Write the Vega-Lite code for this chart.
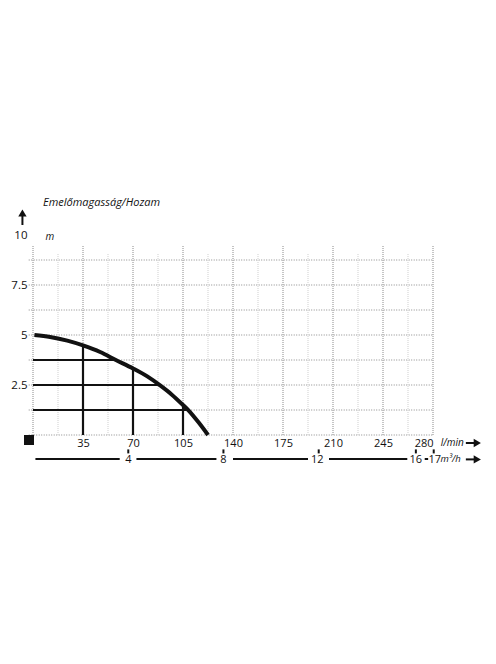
{
  "$schema": "https://vega.github.io/schema/vega-lite/v6.json",
  "width": 400,
  "height": 290,
  "autosize": {"type": "none"},
  "padding": {"left": 33, "top": 185, "right": 63, "bottom": 189},
  "background": "white",
  "config": {"view": {"stroke": null}, "font": "Open Sans"},
  "datasets": {
    "hgrid": [
      {"y": 0, "x": -3, "x2": 280},
      {"y": 1.25, "x": -3, "x2": 280},
      {"y": 2.5, "x": -3, "x2": 280},
      {"y": 3.75, "x": -3, "x2": 280},
      {"y": 5, "x": -3, "x2": 280},
      {"y": 6.25, "x": -3, "x2": 280},
      {"y": 7.5, "x": -3, "x2": 280},
      {"y": 8.75, "x": -3, "x2": 280}
    ],
    "vgrid": [
      {"x": 0, "y": 0, "y2": 9.5, "kind": "major"},
      {"x": 17.5, "y": 0, "y2": 9.1, "kind": "minor"},
      {"x": 35, "y": 0, "y2": 9.5, "kind": "major"},
      {"x": 52.5, "y": 0, "y2": 9.1, "kind": "minor"},
      {"x": 70, "y": 0, "y2": 9.5, "kind": "major"},
      {"x": 87.5, "y": 0, "y2": 9.1, "kind": "minor"},
      {"x": 105, "y": 0, "y2": 9.5, "kind": "major"},
      {"x": 122.5, "y": 0, "y2": 9.1, "kind": "minor"},
      {"x": 140, "y": 0, "y2": 9.5, "kind": "major"},
      {"x": 157.5, "y": 0, "y2": 9.1, "kind": "minor"},
      {"x": 175, "y": 0, "y2": 9.5, "kind": "major"},
      {"x": 192.5, "y": 0, "y2": 9.1, "kind": "minor"},
      {"x": 210, "y": 0, "y2": 9.5, "kind": "major"},
      {"x": 227.5, "y": 0, "y2": 9.1, "kind": "minor"},
      {"x": 245, "y": 0, "y2": 9.5, "kind": "major"},
      {"x": 262.5, "y": 0, "y2": 9.1, "kind": "minor"},
      {"x": 280, "y": 0, "y2": 9.5, "kind": "major"}
    ],
    "curve": [
      {"x": 1, "y": 5.0},
      {"x": 12, "y": 4.9},
      {"x": 24, "y": 4.72},
      {"x": 35, "y": 4.48},
      {"x": 47, "y": 4.15},
      {"x": 58, "y": 3.75},
      {"x": 70, "y": 3.33},
      {"x": 80, "y": 2.93},
      {"x": 89, "y": 2.48},
      {"x": 97, "y": 2.03},
      {"x": 105, "y": 1.5},
      {"x": 109, "y": 1.22},
      {"x": 116, "y": 0.62},
      {"x": 122.5, "y": 0}
    ],
    "refs": [
      {"x": 35, "y": 0, "x2": 35, "y2": 4.45},
      {"x": 70, "y": 0, "x2": 70, "y2": 3.35},
      {"x": 105, "y": 0, "x2": 105, "y2": 1.5},
      {"x": 0, "y": 3.75, "x2": 59, "y2": 3.75},
      {"x": 0, "y": 2.5, "x2": 89, "y2": 2.5},
      {"x": 0, "y": 1.25, "x2": 108, "y2": 1.25}
    ],
    "axis2": [
      {"x": 1.7, "y": -1.2, "x2": 60.7, "y2": -1.2},
      {"x": 72.4, "y": -1.2, "x2": 128.4, "y2": -1.2},
      {"x": 140, "y": -1.2, "x2": 192.5, "y2": -1.2},
      {"x": 207.2, "y": -1.2, "x2": 262, "y2": -1.2},
      {"x": 274.2, "y": -1.2, "x2": 276.6, "y2": -1.2},
      {"x": 303, "y": -1.22, "x2": 309, "y2": -1.22},
      {"x": 303, "y": -0.4, "x2": 309, "y2": -0.4},
      {"x": -7.4, "y": 10.5, "x2": -7.4, "y2": 11.0}
    ],
    "ticks2": [
      {"x": 66.7, "y": -0.72, "y2": -0.92},
      {"x": 133.3, "y": -0.72, "y2": -0.92},
      {"x": 200, "y": -0.72, "y2": -0.92},
      {"x": 268, "y": -0.72, "y2": -0.92},
      {"x": 280.5, "y": -0.72, "y2": -0.92}
    ],
    "labels2": [
      {"x": 66.7, "y": -1.2, "t": "4"},
      {"x": 133.3, "y": -1.2, "t": "8"},
      {"x": 199, "y": -1.2, "t": "12"},
      {"x": 268, "y": -1.2, "t": "16"},
      {"x": 281.2, "y": -1.2, "t": "17"}
    ],
    "italics": [
      {"x": 7, "y": 11.6, "t": "Emelőmagasság/Hozam", "s": 11},
      {"x": 8.8, "y": 9.9, "t": "m", "s": 10},
      {"x": 285.4, "y": -0.42, "t": "l/min", "s": 10},
      {"x": 285.2, "y": -1.22, "t": "m³/h", "s": 9.5}
    ],
    "heads": [
      {"x": 311, "y": -0.4, "shape": "triangle-right"},
      {"x": 311, "y": -1.22, "shape": "triangle-right"},
      {"x": -7.4, "y": 11.1, "shape": "triangle-up"}
    ],
    "square": [
      {"x": -2.8, "y": -0.25}
    ]
  },
  "encoding": {
    "x": {
      "field": "x",
      "type": "quantitative",
      "scale": {"domain": [0, 280], "nice": false, "zero": false},
      "axis": {
        "values": [35, 70, 105, 140, 175, 210, 245, 280],
        "domain": false,
        "ticks": false,
        "tickSize": 0,
        "grid": false,
        "offset": -40,
        "labelPadding": 2,
        "labelFont": "Open Sans",
        "labelFontSize": 11,
        "labelColor": "#111",
        "title": null
      }
    },
    "y": {
      "field": "y",
      "type": "quantitative",
      "scale": {"domain": [-2, 12.5], "nice": false, "zero": false},
      "axis": {
        "values": [2.5, 5, 7.5, 10],
        "format": ".1~f",
        "domain": false,
        "ticks": false,
        "tickSize": 0,
        "grid": false,
        "labelPadding": 6,
        "labelFont": "Open Sans",
        "labelFontSize": 11.5,
        "labelColor": "#111",
        "title": null
      }
    }
  },
  "layer": [
    {
      "data": {"name": "hgrid"},
      "mark": {"type": "rule", "color": "#8a8a8a", "strokeWidth": 1, "strokeDash": [1, 1.5]},
      "encoding": {"x2": {"field": "x2"}}
    },
    {
      "data": {"name": "vgrid"},
      "mark": {"type": "rule", "strokeWidth": 1, "strokeDash": [1, 1]},
      "encoding": {
        "y2": {"field": "y2"},
        "color": {"field": "kind", "type": "nominal", "scale": {"domain": ["major", "minor"], "range": ["#8a8a8a", "#cfcfcf"]}, "legend": null}
      }
    },
    {
      "data": {"name": "refs"},
      "mark": {"type": "rule", "color": "#111", "strokeWidth": 2.2},
      "encoding": {"x2": {"field": "x2"}, "y2": {"field": "y2"}}
    },
    {
      "data": {"name": "curve"},
      "mark": {"type": "line", "color": "#111", "strokeWidth": 4, "interpolate": "monotone", "strokeCap": "butt"},
      "encoding": {}
    },
    {
      "data": {"name": "axis2"},
      "mark": {"type": "rule", "color": "#111", "strokeWidth": 2},
      "encoding": {"x2": {"field": "x2"}, "y2": {"field": "y2"}}
    },
    {
      "data": {"name": "ticks2"},
      "mark": {"type": "rule", "color": "#111", "strokeWidth": 2},
      "encoding": {"y2": {"field": "y2"}}
    },
    {
      "data": {"name": "labels2"},
      "mark": {"type": "text", "font": "Open Sans", "fontSize": 11, "color": "#111", "baseline": "middle", "align": "center", "dy": 1},
      "encoding": {"text": {"field": "t"}}
    },
    {
      "data": {"name": "italics"},
      "mark": {"type": "text", "font": "Open Sans", "fontStyle": "italic", "color": "#111", "baseline": "middle", "align": "left"},
      "encoding": {"text": {"field": "t"}, "size": {"field": "s", "type": "quantitative", "scale": null}}
    },
    {
      "data": {"name": "heads"},
      "mark": {"type": "point", "filled": true, "color": "#111", "opacity": 1, "size": 70},
      "encoding": {"shape": {"field": "shape", "type": "nominal", "scale": null}}
    },
    {
      "data": {"name": "square"},
      "mark": {"type": "point", "shape": "square", "filled": true, "color": "#111", "opacity": 1, "size": 100},
      "encoding": {}
    }
  ]
}
